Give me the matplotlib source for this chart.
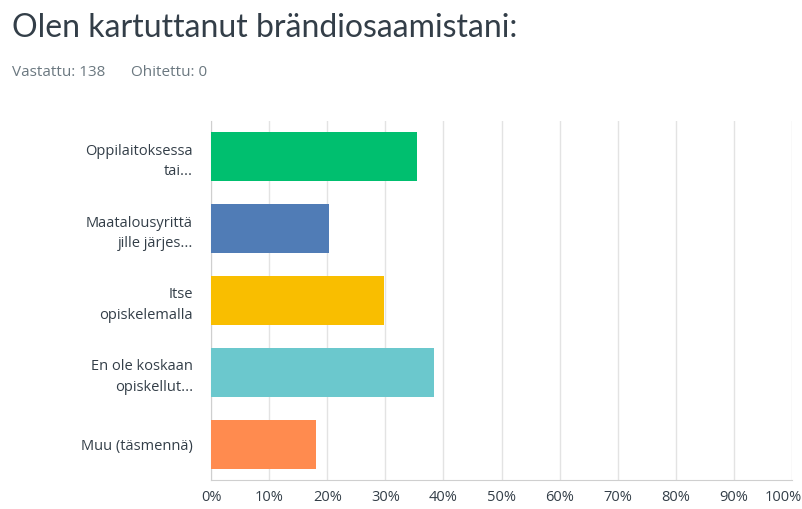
import numpy as np
import matplotlib
matplotlib.use('Agg')
import matplotlib.pyplot as plt
import matplotlib.transforms as mtransforms
from matplotlib.ticker import PercentFormatter

# answer options (truncated as in the survey export) and share of respondents
labels = ['Oppilaitoksessa\ntai...', 'Maatalousyrittä\njille järjes...',
          'Itse\nopiskelemalla', 'En ole koskaan\nopiskellut...', 'Muu (täsmennä)']
shares = [35.5, 20.3, 29.7, 38.4, 18.1]
colours = ['#00bf6f', '#507cb6', '#f9be00', '#6bc8cd', '#ff8b4f']
ticks = np.arange(0, 101, 10)

plt.rcParams['font.family'] = ['Open Sans', 'DejaVu Sans']
text_col = '#333e48'

fig = plt.figure(figsize=(8.02, 5.09), dpi=100)
ax = fig.add_axes([211/802, 1-480/509, (792-211)/802, (480-121)/509])

y = np.arange(len(labels))
ax.barh(y, shares, height=0.68, color=colours, zorder=3)
ax.set_ylim(len(labels)-0.5, -0.5)
ax.set_xlim(0, 100)
ax.set_xticks(ticks)
ax.xaxis.set_major_formatter(PercentFormatter(decimals=0))
ax.set_yticks(y)
ax.set_yticklabels(labels, linespacing=1.5)
ax.grid(axis='x', color='#e3e3e3', linewidth=1, zorder=0)
ax.tick_params(axis='both', length=0, labelsize=10.5, colors=text_col)
ax.tick_params(axis='x', pad=7)
ax.tick_params(axis='y', pad=13)
for s in ['top', 'right']:
	ax.spines[s].set_visible(False)
ax.spines['left'].set_color('#cfcfcf')
ax.spines['bottom'].set_color('#cfcfcf')

# last tick label sits a little to the left, as in the original
last = ax.get_xticklabels()[-1]
last.set_transform(last.get_transform() +
	mtransforms.ScaledTranslation(-9/100, 0, fig.dpi_scale_trans))

fig.text(12/802, 1-37/509, 'Olen kartuttanut brändiosaamistani:', fontsize=23,
	family=['Lato', 'DejaVu Sans'], color=text_col, ha='left', va='baseline')
fig.text(12/802, 1-76/509, 'Vastattu: 138', fontsize=11, color='#6b7880',
	ha='left', va='baseline')
fig.text(131/802, 1-76/509, 'Ohitettu: 0', fontsize=11, color='#6b7880',
	ha='left', va='baseline')

fig.savefig('out.png', dpi=100)
